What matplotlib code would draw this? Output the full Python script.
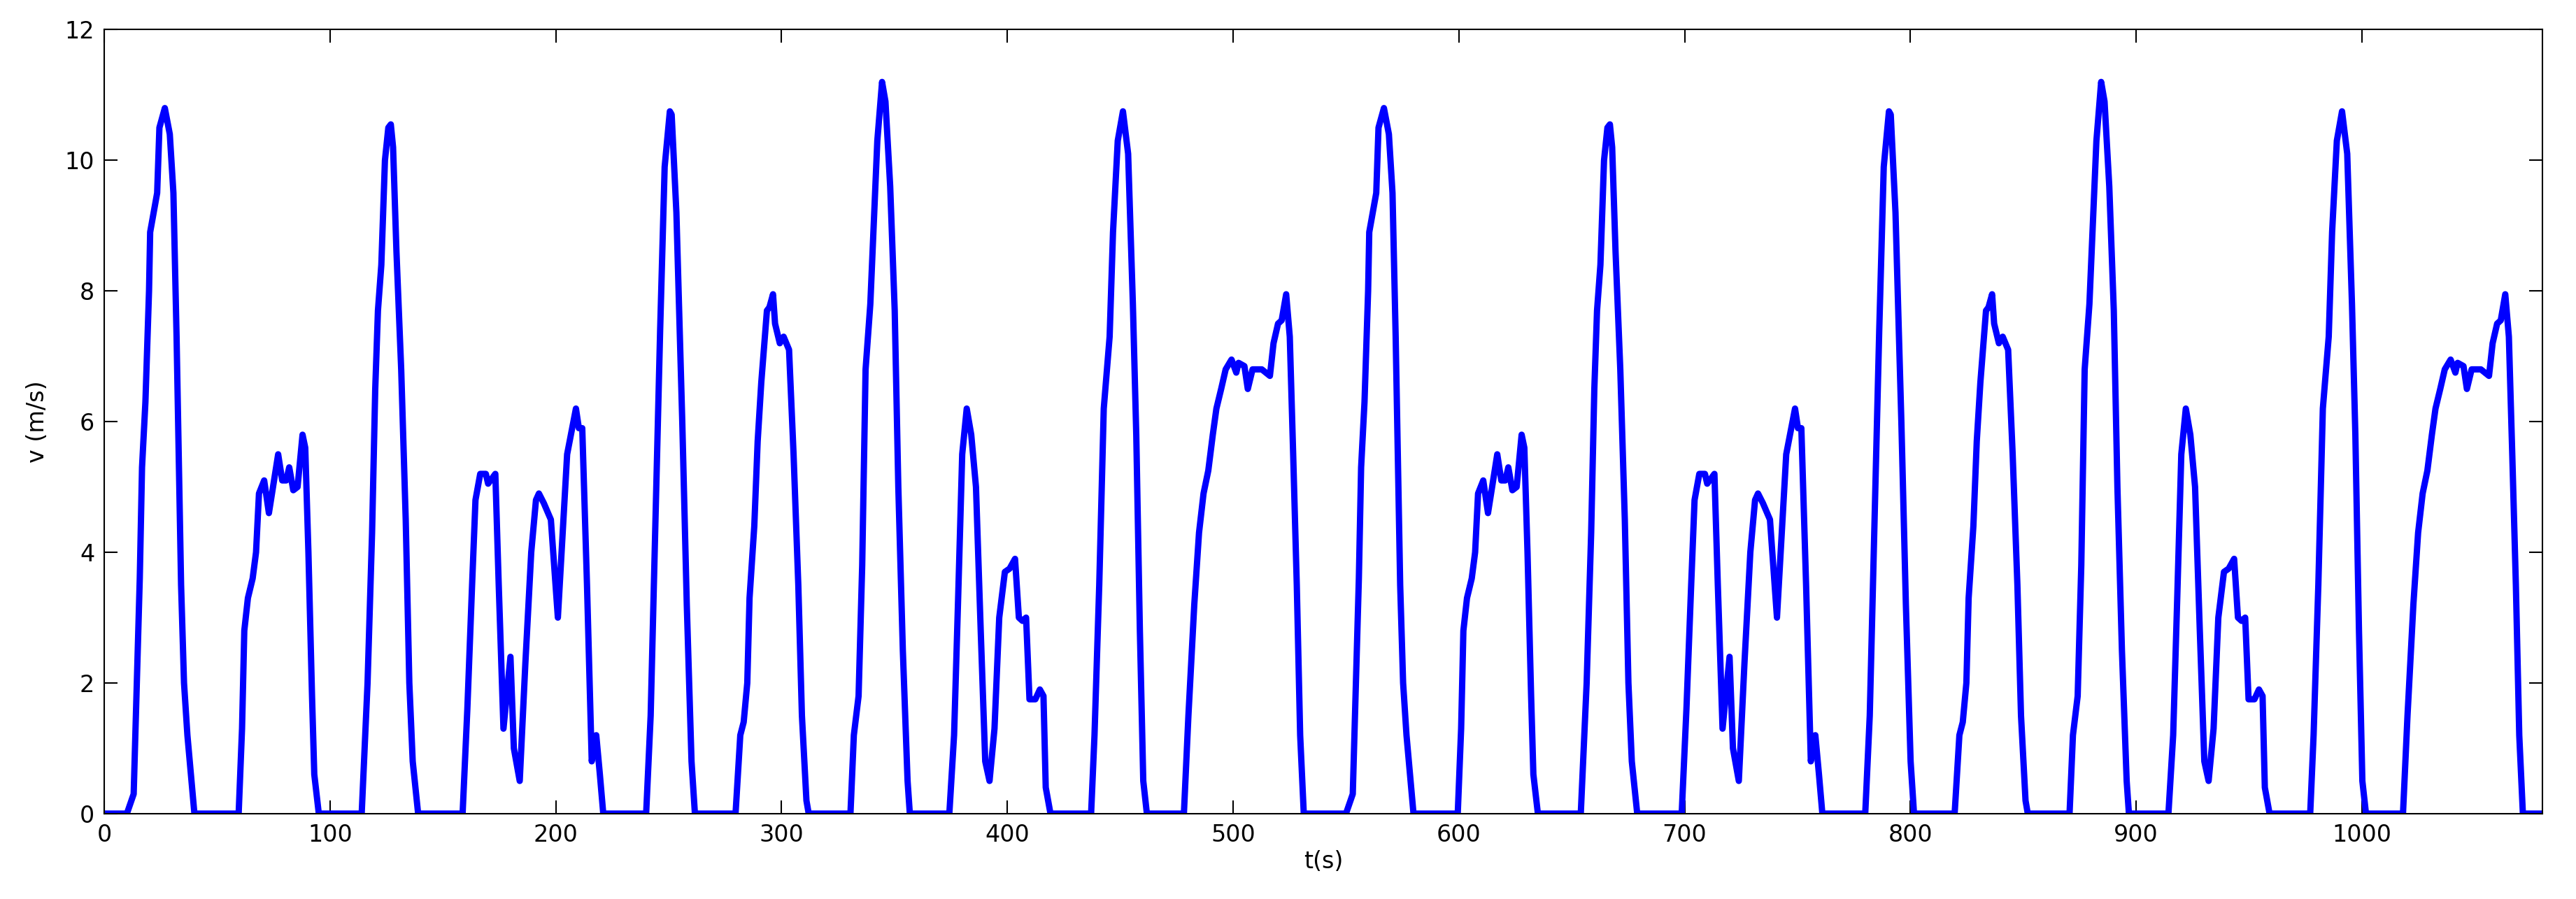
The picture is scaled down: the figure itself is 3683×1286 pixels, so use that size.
import numpy as np
import matplotlib
matplotlib.use('Agg')
import matplotlib.pyplot as plt

# one 540 s cycle, the chart shows it twice
cycle_t = [0, 10, 13, 15.7, 16.7, 18.2, 19.8, 20.3, 23.4, 24.4, 26.8, 29, 30.6, 32, 33.2, 34, 35.3, 36.8, 39.9,
           59.5, 61, 62, 63.6, 65.7, 67.2, 68.5, 70.8, 72.9, 77, 78.8, 80.6, 81.9, 83.7, 85.6, 87.8, 89, 90.4, 92, 93, 95,
           114, 116.6, 118.6, 120, 121.2, 122.7, 124.3, 125.8, 126.9, 127.9, 129.4, 131.5, 133.5, 135.1, 136.6, 139,
           158.7, 160.8, 162.9, 164.4, 166.5, 169, 170, 173.2, 174.7, 176.8, 179.9, 181.4, 184, 186.5, 189.1, 191.2,
           192.5, 194.7, 197.8, 200.9, 205, 208.9, 210.2, 211.7, 213.8, 215.9, 217.9, 219.5, 221,
           240, 242, 244, 246.2, 248.2, 250.5, 251.3, 253.4, 256, 258, 260.1, 261.6,
           279.6, 281.7, 283.2, 284.8, 285.8, 287.9, 289.4, 291, 293.5, 294.6, 296.2, 297.1, 299.2, 300.9, 303.3,
           305.3, 307.4, 309, 311, 312,
           330.5, 332, 334.1, 335.7, 337.2, 339.3, 340.8, 342.4, 344.5, 346, 348.1, 350.1, 351.7, 353.7, 355.8, 356.8,
           374.3, 376.4, 378.2, 380, 382, 384, 386.1, 388.2, 390.2, 392.1, 394.3, 396.4, 398.9, 401, 403.4, 405.1,
           406.7, 408.3, 409.8, 412.4, 414.4, 416, 417, 419.1,
           437.1, 438.6, 440.7, 442.7, 445.3, 446.8, 448.9, 451.2, 453.5, 455.6, 457.1, 458.7, 460.2, 461.8,
           478.2, 480.2, 482.8, 484.9, 486.9, 489, 491, 492.6, 494.7, 496.7, 499.3, 501.4, 502.4, 505, 506.5, 508.6,
           512.7, 516.3, 517.9, 519.9, 521.5, 523.5, 525.1, 526.6, 528.2, 529.7, 531.3, 540]
cycle_v = [0, 0, 0.3, 3.6, 5.3, 6.3, 8.0, 8.9, 9.5, 10.5, 10.8, 10.4, 9.5, 7.3, 5.0, 3.5, 2.0, 1.2, 0,
           0, 1.3, 2.8, 3.3, 3.6, 4.0, 4.9, 5.1, 4.6, 5.5, 5.1, 5.1, 5.3, 4.95, 5.0, 5.8, 5.6, 4.0, 1.8, 0.6, 0,
           0, 2.0, 4.3, 6.5, 7.7, 8.4, 10.0, 10.5, 10.55, 10.2, 8.6, 6.8, 4.5, 2.0, 0.8, 0,
           0, 1.6, 3.5, 4.8, 5.2, 5.2, 5.05, 5.2, 3.5, 1.3, 2.4, 1.0, 0.5, 2.3, 4.0, 4.8,
           4.9, 4.75, 4.5, 3.0, 5.5, 6.2, 5.9, 5.9, 3.5, 0.8, 1.2, 0.6, 0,
           0, 1.5, 4.3, 7.4, 9.9, 10.75, 10.7, 9.2, 6.0, 3.2, 0.8, 0,
           0, 1.2, 1.4, 2.0, 3.3, 4.4, 5.7, 6.6, 7.7, 7.75, 7.95, 7.5, 7.2, 7.3, 7.1,
           5.5, 3.5, 1.5, 0.2, 0,
           0, 1.2, 1.8, 3.8, 6.8, 7.8, 9.0, 10.3, 11.2, 10.9, 9.6, 7.7, 5.0, 2.5, 0.5, 0,
           0, 1.2, 3.3, 5.5, 6.2, 5.8, 5.0, 2.8, 0.8, 0.5, 1.3, 3.0, 3.7, 3.75, 3.9, 3.0,
           2.95, 3.0, 1.75, 1.75, 1.9, 1.8, 0.4, 0,
           0, 1.2, 3.5, 6.2, 7.3, 8.9, 10.3, 10.75, 10.1, 7.8, 5.8, 2.8, 0.5, 0,
           0, 1.5, 3.2, 4.3, 4.9, 5.25, 5.8, 6.2, 6.5, 6.8, 6.95, 6.75, 6.9, 6.85, 6.5, 6.8,
           6.8, 6.7, 7.2, 7.5, 7.55, 7.95, 7.3, 5.5, 3.5, 1.2, 0, 0]
period = 540
n_cycles = 2

t = np.concatenate([np.array(cycle_t) + k * period for k in range(n_cycles)])
v = np.concatenate([np.array(cycle_v) for k in range(n_cycles)])

fig = plt.figure(figsize=(36.83, 12.86), dpi=100)
ax = fig.add_axes([0.0405, 0.095, 0.9465, 0.872])
ax.plot(t, v, color='#0000ff', linewidth=6.5, solid_joinstyle='round')
ax.set_xlim(0, 1080)
ax.set_ylim(0, 12)
ax.set_xticks(np.arange(0, 1001, 100))
ax.set_yticks(np.arange(0, 13, 2))
ax.tick_params(direction='in', length=14, width=1.5, labelsize=24, top=True, right=True, pad=10)
for s in ax.spines.values():
    s.set_linewidth(1.5)
ax.set_xlabel('t(s)', size=24, labelpad=4)
ax.set_ylabel('v (m/s)', size=24, labelpad=16)
fig.savefig('out.png', dpi=100)
